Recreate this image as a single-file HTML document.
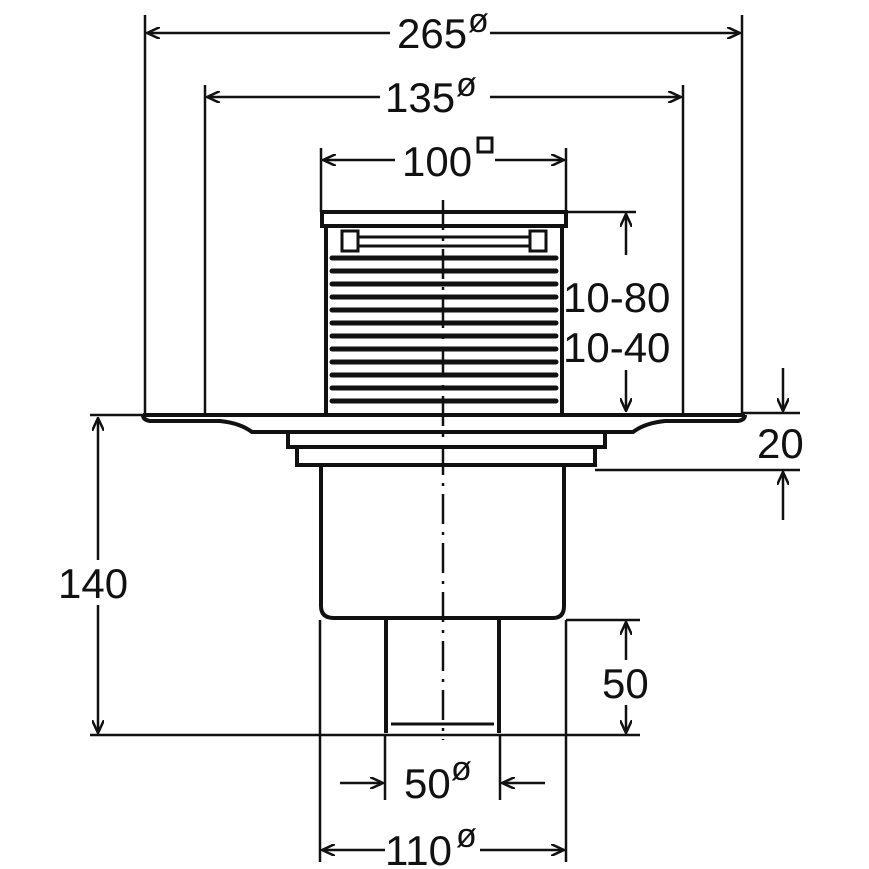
<!DOCTYPE html>
<html><head><style>body{margin:0;background:#fff}svg{display:block}</style></head><body>
<svg width="869" height="869" viewBox="0 0 869 869" xmlns="http://www.w3.org/2000/svg">
<defs><marker id="a" markerWidth="14" markerHeight="12" refX="13" refY="6" orient="auto" markerUnits="userSpaceOnUse"><path d="M0,0 L13,6 L0,12" fill="none" stroke="#111" stroke-width="2.5"/></marker></defs>
<g stroke="#111" fill="none" stroke-width="2.5">
<line x1="145" y1="15" x2="145" y2="415"/><line x1="742" y1="15" x2="742" y2="415"/>
<line x1="205" y1="85" x2="205" y2="415"/><line x1="683" y1="85" x2="683" y2="415"/>
<line x1="321" y1="148" x2="321" y2="212"/><line x1="566" y1="148" x2="566" y2="212"/>
<line x1="566" y1="212" x2="636" y2="212"/>
<line x1="90" y1="415" x2="145" y2="415"/><line x1="742" y1="413" x2="800" y2="413"/>
<line x1="595" y1="470" x2="800" y2="470"/>
<line x1="90" y1="735" x2="640" y2="735"/><line x1="566" y1="620" x2="640" y2="620"/>
<line x1="385" y1="735" x2="385" y2="800"/><line x1="500" y1="735" x2="500" y2="800"/>
<line x1="320" y1="620" x2="320" y2="862"/><line x1="566" y1="620" x2="566" y2="862"/>
<line x1="390" y1="33" x2="147" y2="33" marker-end="url(#a)"/><line x1="490" y1="33" x2="740" y2="33" marker-end="url(#a)"/>
<line x1="380" y1="97" x2="207" y2="97" marker-end="url(#a)"/><line x1="490" y1="97" x2="681" y2="97" marker-end="url(#a)"/>
<line x1="395" y1="160" x2="323" y2="160" marker-end="url(#a)"/><line x1="495" y1="160" x2="564" y2="160" marker-end="url(#a)"/>
<line x1="626" y1="255" x2="626" y2="214" marker-end="url(#a)"/><line x1="626" y1="370" x2="626" y2="411" marker-end="url(#a)"/>
<line x1="783" y1="368" x2="783" y2="411" marker-end="url(#a)"/><line x1="783" y1="520" x2="783" y2="472" marker-end="url(#a)"/>
<line x1="98" y1="560" x2="98" y2="418" marker-end="url(#a)"/><line x1="98" y1="605" x2="98" y2="733" marker-end="url(#a)"/>
<line x1="626" y1="660" x2="626" y2="622" marker-end="url(#a)"/><line x1="626" y1="705" x2="626" y2="733" marker-end="url(#a)"/>
<line x1="340" y1="783" x2="383" y2="783" marker-end="url(#a)"/><line x1="545" y1="783" x2="502" y2="783" marker-end="url(#a)"/>
<line x1="385" y1="850" x2="322" y2="850" marker-end="url(#a)"/><line x1="480" y1="850" x2="564" y2="850" marker-end="url(#a)"/>
</g>
<g stroke="#111" fill="none" stroke-width="4">
<rect x="322" y="212" width="244" height="14"/>
<path d="M326,226 V414 M562,226 V414"/>
<g stroke-width="5" stroke-linecap="round">
<path d="M332,258 H556 M332,271 H556 M332,284 H556 M332,297 H556 M332,310 H556 M332,323 H556 M332,336 H556 M332,349 H556 M332,362 H556 M332,375 H556 M332,388 H556 M332,401 H556"/>
</g>
<path d="M342,231 h16 v20 h-16z M530,231 h16 v20 h-16z M358,237 H530 M358,246 H530" stroke-width="3"/>
<path d="M143,415 H745 M143,415 Q143,420 150,421 H220 Q240,423 252,432 H288 M745,415 Q745,420 738,421 H665 Q645,423 633,432 H605"/>
<rect x="288" y="432" width="317" height="15"/>
<rect x="297" y="447" width="298" height="18"/>
<path d="M321,465 V606 Q321,618 334,618 H553 Q564,618 564,606 V465"/>
<path d="M386,618 V733 M499,618 V733"/>
<path d="M391,724 H494" stroke-width="3"/>
</g>
<line x1="443" y1="200" x2="443" y2="740" stroke="#111" stroke-width="2.5" stroke-dasharray="30,8,3,8"/>
<g font-family="Liberation Sans, sans-serif" font-size="42" fill="#111">
<text x="397" y="48">265</text><text x="468" y="32" font-size="34">ø</text>
<text x="385" y="112">135</text><text x="456" y="96" font-size="34">ø</text>
<text x="402" y="176">100</text><rect x="478" y="138" width="14" height="14" fill="none" stroke="#111" stroke-width="3"/>
<text x="563" y="312">10-80</text>
<text x="563" y="362">10-40</text>
<text x="757" y="458">20</text>
<text x="58" y="598">140</text>
<text x="602" y="698">50</text>
<text x="404" y="798">50</text><text x="451" y="780" font-size="34">ø</text>
<text x="385" y="865">110</text><text x="456" y="847" font-size="34">ø</text>
</g>
</svg>
</body></html>
